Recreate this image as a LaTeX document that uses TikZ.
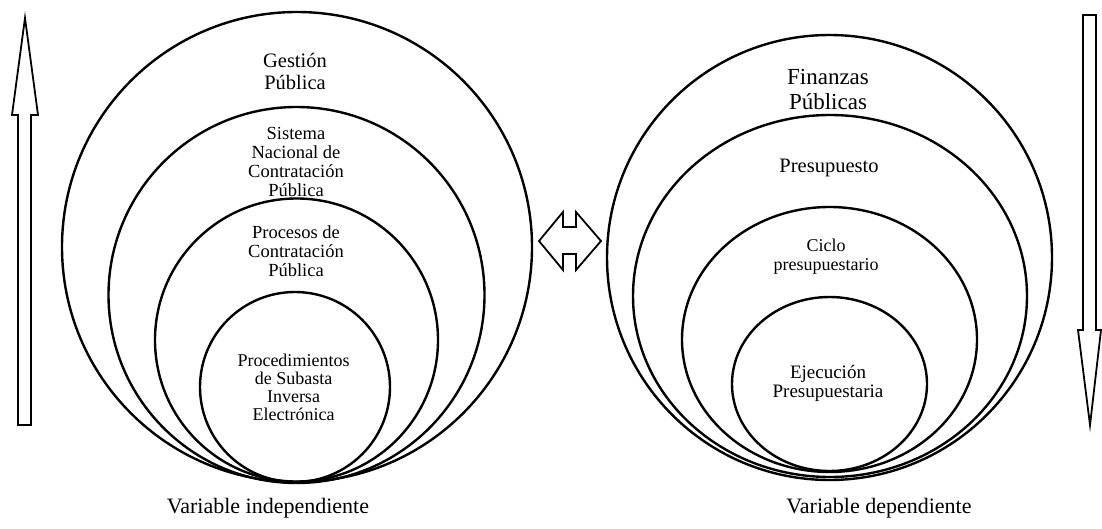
\documentclass[tikz,border=0pt]{standalone}
\usepackage{fontspec}
\setmainfont{Liberation Serif}
\begin{document}
\begin{tikzpicture}[x=1pt,y=-1pt,
  ring/.style={draw, line width=2.4pt},
  lbl/.style={align=center, inner sep=0pt},
  bigarrow/.style={draw, line width=1.8pt, line join=miter}]
\useasboundingbox (0,0) rectangle (1102,529);

% nested circles: independent variable
\coordinate (L1) at (297,247);
\coordinate (L2) at (296.5,295);
\coordinate (L3) at (296.5,340);
\coordinate (L4) at (295,387);
\draw[ring] (L1) circle (235pt);
\draw[ring] (L2) circle (188pt);
\draw[ring] (L3) circle (141.5pt);
\draw[ring] (L4) circle (95pt);

% nested ovals: dependent variable
\coordinate (R1) at (829.5,257.5);
\coordinate (R2) at (830,296);
\coordinate (R3) at (829.5,339.5);
\coordinate (R4) at (829.5,384);
\draw[ring] (R1) circle (222.5pt);
\draw[ring] (R2) ellipse [x radius=197pt, y radius=181pt];
\draw[ring] (R3) ellipse [x radius=147.5pt, y radius=132.5pt];
\draw[ring] (R4) ellipse [x radius=97.5pt, y radius=87pt];

% labels, left
\node[lbl, font=\fontsize{20.5}{22}\selectfont] (gp) at (295,71) {Gestión\\Pública};
\node[lbl, font=\fontsize{18.5}{19.3}\selectfont] (sn) at (296,162) {Sistema\\Nacional de\\Contratación\\Pública};
\node[lbl, font=\fontsize{18.5}{19}\selectfont] (pc) at (296,251) {Procesos de\\Contratación\\Pública};
\node[lbl, font=\fontsize{18}{18}\selectfont] (ps) at (293.5,387) {Procedimientos\\de Subasta\\Inversa\\Electrónica};

% labels, right
\node[lbl, font=\fontsize{23}{25}\selectfont] (fp) at (828,90) {Finanzas\\Públicas};
\node[lbl, font=\fontsize{20.5}{22}\selectfont] (pr) at (829,168) {Presupuesto};
\node[lbl, font=\fontsize{18}{19}\selectfont] (cp) at (826,257) {Ciclo\\presupuestario};
\node[lbl, font=\fontsize{19}{19}\selectfont] (ep) at (828,383) {Ejecución\\Presupuestaria};

% captions
\node[lbl, font=\fontsize{22}{24}\selectfont] (vi) at (268,508) {Variable independiente};
\node[lbl, font=\fontsize{22}{24}\selectfont] (vd) at (879,508) {Variable dependiente};

% block arrows
\draw[bigarrow] (18,425) -- (18,115) -- (12,115) -- (25,18) -- (38,115) -- (31,115) -- (31,425) -- cycle;
\draw[bigarrow] (1083,15) -- (1096,15) -- (1096,330) -- (1101,330) -- (1090,425) -- (1078,330) -- (1083,330) -- cycle;
\draw[bigarrow] (539,241) -- (563,212) -- (563,227) -- (576,227) -- (576,212) -- (601,241)
  -- (576,270) -- (576,254) -- (563,254) -- (563,270) -- cycle;
\end{tikzpicture}
\end{document}
